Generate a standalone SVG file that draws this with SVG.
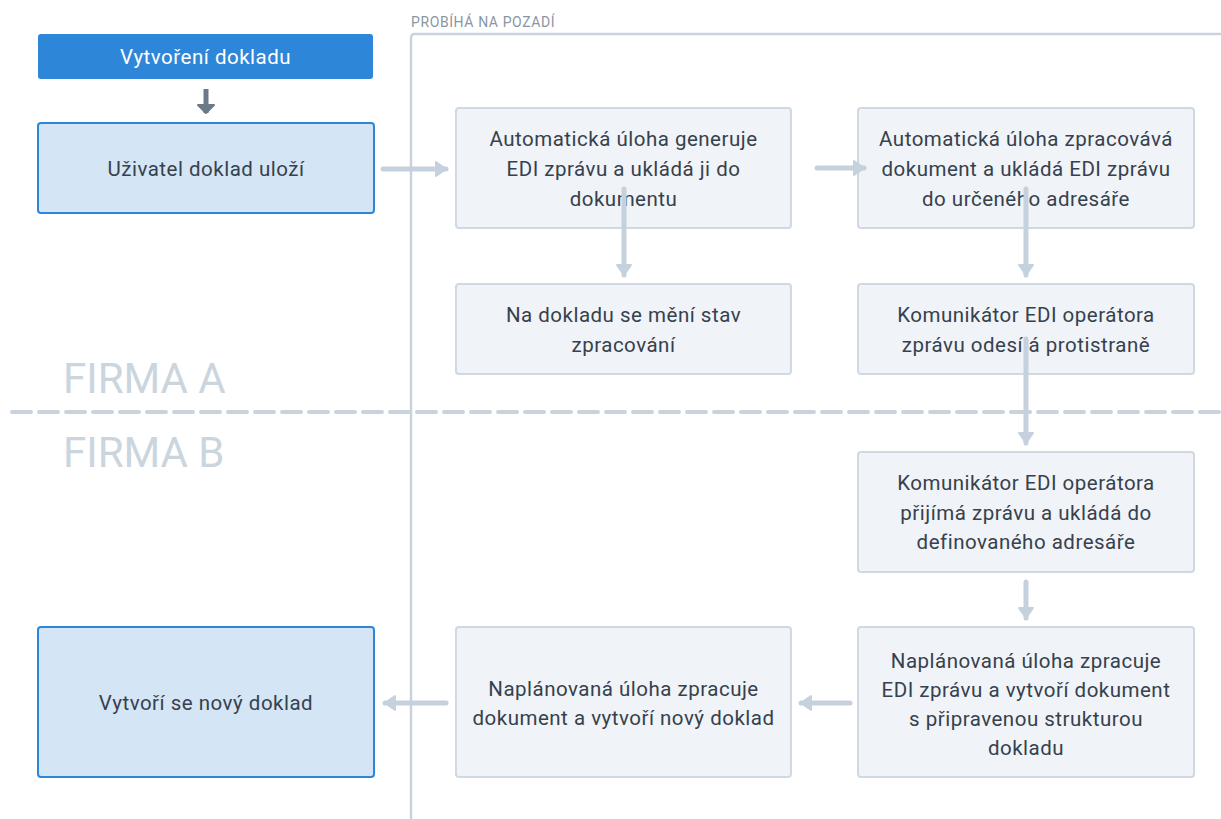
<svg xmlns="http://www.w3.org/2000/svg" width="1221" height="819" viewBox="0 0 1221 819">
<style>
.box{fill:#f0f3f7;stroke:#d0d9e1;stroke-width:2}
.bluebox{fill:#d4e5f5;stroke:#2e86d8;stroke-width:2}
.t{font-family:Roboto,"Liberation Sans",sans-serif;font-size:20.5px;letter-spacing:0.5px;fill:#36414d;text-anchor:middle}
.conn{stroke:#c5d2dd;stroke-width:5;stroke-linecap:round;fill:none}
.firma{font-family:Roboto,"Liberation Sans",sans-serif;font-size:42px;fill:#cbd5de}
</style>
<defs>
<marker id="ah" markerUnits="userSpaceOnUse" markerWidth="14" markerHeight="18" refX="11" refY="8" orient="auto" viewBox="0 0 14 18">
<path d="M1,1 L11,8 L1,15 z" fill="#c5d2dd" stroke="#c5d2dd" stroke-width="2" stroke-linejoin="round"/>
</marker>
<marker id="ahd" markerUnits="userSpaceOnUse" markerWidth="18" markerHeight="18" refX="9" refY="9" orient="auto" viewBox="0 0 18 18">
<path d="M1,1 L9,9 L1,17 z" fill="#6c7a88" stroke="#6c7a88" stroke-width="2" stroke-linejoin="round"/>
</marker>
</defs>
<rect width="1221" height="819" fill="#ffffff"/>

<g id="lanes">
<path d="M411,819 V38 Q411,34 415,34 H1221" fill="none" stroke="#c9d3de" stroke-width="2.5"/>
<text x="411" y="27" font-family="Roboto,'Liberation Sans',sans-serif" font-size="14" letter-spacing="0.6" fill="#8a96a3">PROBÍHÁ NA POZADÍ</text>
<line x1="12" y1="412" x2="1221" y2="412" stroke="#c9d3de" stroke-width="4" stroke-dasharray="19,8" stroke-linecap="round"/>
<text class="firma" x="63" y="393">FIRMA A</text>
<text class="firma" x="63" y="467">FIRMA B</text>
</g>

<g id="n-vytvoreni">
<rect x="38" y="34" width="335" height="45" rx="3" fill="#2e86d8"/>
<text class="t" x="205.5" y="64" style="fill:#ffffff">Vytvoření dokladu</text>
</g>
<g id="n-ulozi">
<rect class="bluebox" x="38" y="123" width="336" height="90" rx="3"/>
<text class="t" x="206" y="176">Uživatel doklad uloží</text>
</g>
<g id="n-generuje">
<rect class="box" x="456" y="108" width="335" height="120" rx="3"/>
<text class="t" x="623.5" y="146">Automatická úloha generuje</text>
<text class="t" x="623.5" y="176">EDI zprávu a ukládá ji do</text>
<text class="t" x="623.5" y="206">dokumentu</text>
</g>
<g id="n-zpracovava">
<rect class="box" x="858" y="108" width="336" height="120" rx="3"/>
<text class="t" x="1026" y="146">Automatická úloha zpracovává</text>
<text class="t" x="1026" y="176">dokument a ukládá EDI zprávu</text>
<text class="t" x="1026" y="206">do určeného adresáře</text>
</g>
<g id="n-stav">
<rect class="box" x="456" y="284" width="335" height="90" rx="3"/>
<text class="t" x="623.5" y="322">Na dokladu se mění stav</text>
<text class="t" x="623.5" y="352">zpracování</text>
</g>
<g id="n-odesila">
<rect class="box" x="858" y="284" width="336" height="90" rx="3"/>
<text class="t" x="1026" y="322">Komunikátor EDI operátora</text>
<text class="t" x="1026" y="352">zprávu odesílá protistraně</text>
</g>
<g id="n-prijima">
<rect class="box" x="858" y="452" width="336" height="120" rx="3"/>
<text class="t" x="1026" y="490">Komunikátor EDI operátora</text>
<text class="t" x="1026" y="520">přijímá zprávu a ukládá do</text>
<text class="t" x="1026" y="549">definovaného adresáře</text>
</g>
<g id="n-naplanovana1">
<rect class="box" x="858" y="627" width="336" height="150" rx="3"/>
<text class="t" x="1026" y="668">Naplánovaná úloha zpracuje</text>
<text class="t" x="1026" y="697">EDI zprávu a vytvoří dokument</text>
<text class="t" x="1026" y="726">s připravenou strukturou</text>
<text class="t" x="1026" y="755">dokladu</text>
</g>
<g id="n-naplanovana2">
<rect class="box" x="456" y="627" width="335" height="150" rx="3"/>
<text class="t" x="623.5" y="696">Naplánovaná úloha zpracuje</text>
<text class="t" x="623.5" y="725">dokument a vytvoří nový doklad</text>
</g>
<g id="n-novy">
<rect class="bluebox" x="38" y="627" width="336" height="150" rx="3"/>
<text class="t" x="206" y="710">Vytvoří se nový doklad</text>
</g>

<g id="connectors">
<line x1="206" y1="89" x2="206" y2="113" stroke="#6c7a88" stroke-width="5" marker-end="url(#ahd)"/>
<line class="conn" x1="383" y1="169" x2="446" y2="169" marker-end="url(#ah)"/>
<line class="conn" x1="817" y1="168" x2="864" y2="168" marker-end="url(#ah)"/>
<line class="conn" x1="624" y1="189" x2="624" y2="275" marker-end="url(#ah)"/>
<line class="conn" x1="1026" y1="189" x2="1026" y2="275" marker-end="url(#ah)"/>
<line class="conn" x1="1026" y1="339" x2="1026" y2="443" marker-end="url(#ah)"/>
<line class="conn" x1="1026" y1="582" x2="1026" y2="618" marker-end="url(#ah)"/>
<line class="conn" x1="850" y1="703" x2="801" y2="703" marker-end="url(#ah)"/>
<line class="conn" x1="446" y1="703" x2="385" y2="703" marker-end="url(#ah)"/>
</g>
</svg>
